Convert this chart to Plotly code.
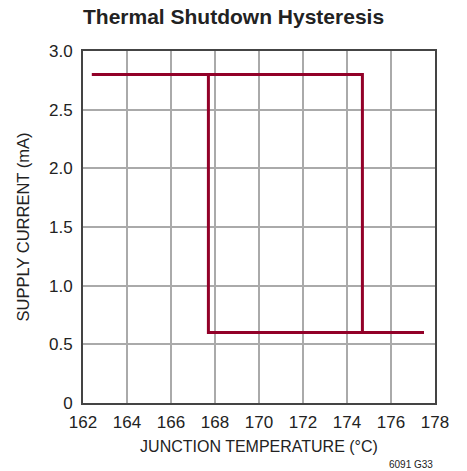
import plotly.graph_objects as go

# Heating branch: supply current stays high until shutdown trips
heat_temp = [162.4, 174.7, 174.7, 177.5]
heat_current = [2.8, 2.8, 0.6, 0.6]

# Cooling branch: current stays low until the part recovers
cool_temp = [174.7, 167.7, 167.7, 165.0]
cool_current = [0.6, 0.6, 2.8, 2.8]

x_ticks = [162, 164, 166, 168, 170, 172, 174, 176, 178]
y_ticks = [0, 0.5, 1.0, 1.5, 2.0, 2.5, 3.0]
y_tick_text = ["0", "0.5", "1.0", "1.5", "2.0", "2.5", "3.0"]

LINE_COLOR = "#920028"
TEXT_COLOR = "#222222"
FONT = "Liberation Sans, Arial, sans-serif"

fig = go.Figure()
for xs, ys in [(heat_temp, heat_current), (cool_temp, cool_current)]:
    fig.add_trace(go.Scatter(
        x=xs, y=ys, mode="lines",
        line=dict(color=LINE_COLOR, width=3),
        showlegend=False, hoverinfo="skip",
    ))

axis_common = dict(
    showgrid=True, gridcolor="#aaaaaa", gridwidth=1.5,
    showline=True, linecolor="#444444", linewidth=2, mirror=True,
    ticks="", zeroline=False,
    tickfont=dict(family=FONT, size=17, color=TEXT_COLOR),
)

fig.update_layout(
    width=467, height=471,
    margin=dict(l=83, r=32, t=51, b=68),
    paper_bgcolor="white", plot_bgcolor="white",
    title=dict(
        text="<b>Thermal Shutdown Hysteresis</b>",
        font=dict(family=FONT, size=21, color=TEXT_COLOR),
        x=83 / 467, xanchor="left", y=1 - 17 / 471, yanchor="middle",
    ),
    xaxis=dict(
        range=[162, 178], tickvals=x_ticks, ticklabelstandoff=3,
        title=dict(text="JUNCTION TEMPERATURE (°C)", standoff=9,
                   font=dict(family=FONT, size=16, color=TEXT_COLOR)),
        **axis_common,
    ),
    yaxis=dict(
        range=[0, 3.0], tickvals=y_ticks, ticktext=y_tick_text,
        ticklabelstandoff=5,
        title=dict(text="SUPPLY CURRENT (mA)", standoff=15,
                   font=dict(family=FONT, size=16.5, color=TEXT_COLOR)),
        **axis_common,
    ),
    annotations=[dict(
        text="6091 G33", xref="paper", yref="paper", x=1, y=0,
        xanchor="right", yanchor="middle", yshift=-61, showarrow=False,
        font=dict(family=FONT, size=10, color=TEXT_COLOR),
    )],
)

fig.write_html("out.html")
